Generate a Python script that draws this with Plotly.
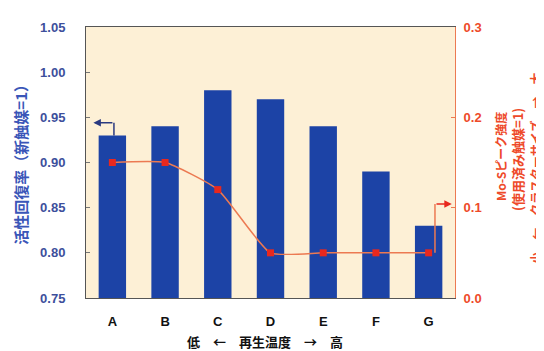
import plotly.graph_objects as go

categories = ["A", "B", "C", "D", "E", "F", "G"]
recovery = [0.93, 0.94, 0.98, 0.97, 0.94, 0.89, 0.83]
mos_peak = [0.15, 0.15, 0.12, 0.05, 0.05, 0.05, 0.05]
left_ticks = [0.75, 0.80, 0.85, 0.90, 0.95, 1.00, 1.05]
right_ticks = [0.0, 0.1, 0.2, 0.3]

BLUE = "#1c43a6"
RED = "#e8281e"
ORANGE = "#ec7a52"
LBLUE = "#3d4f9c"
TXTRED = "#ee4a2a"
JP = "Noto Sans CJK JP"
EN = "Liberation Sans"

fig = go.Figure()
fig.add_trace(go.Bar(x=list(range(7)), y=recovery, marker_color=BLUE,
                     marker_line_width=0, width=0.52, yaxis="y"))
fig.add_trace(go.Scatter(x=list(range(7)), y=mos_peak, yaxis="y2", mode="lines+markers",
                         line=dict(color=ORANGE, width=1.5, shape="spline", smoothing=0.5),
                         marker=dict(symbol="square", size=7, color=RED)))

# pointer from bar A to left axis
fig.add_trace(go.Scatter(x=[0.03, 0.03], y=[recovery[0], 0.944], mode="lines",
                         line=dict(color="#2a3a80", width=1.5), yaxis="y"))
fig.add_annotation(x=-0.36, y=0.944, ax=0.03, ay=0.944, xref="x", yref="y",
                   axref="x", ayref="y", showarrow=True, arrowhead=2, arrowsize=1,
                   arrowwidth=1.5, arrowcolor="#2a3a80", text="")
# pointer from G to right axis
fig.add_trace(go.Scatter(x=[6.12, 6.12], y=[mos_peak[6], 0.104], mode="lines",
                         line=dict(color=ORANGE, width=1.5), yaxis="y2"))
fig.add_annotation(x=6.44, y=0.104, ax=6.12, ay=0.104, xref="x", yref="y2",
                   axref="x", ayref="y2", showarrow=True, arrowhead=2, arrowsize=1,
                   arrowwidth=1.5, arrowcolor=RED, text="")

fig.update_layout(
    width=536, height=343,
    margin=dict(l=78, r=89, t=14, b=53),
    paper_bgcolor="white", plot_bgcolor="#fdf0d6",
    showlegend=False,
    xaxis=dict(range=[-0.5, 6.5], tickvals=list(range(7)), ticktext=categories,
               showgrid=False, zeroline=False, showline=True, linecolor="#555",
               mirror=True, linewidth=1, ticks="", ticklabelstandoff=11,
               tickfont=dict(family=EN, size=13, color="#111", weight="bold")),
    yaxis=dict(range=[0.75, 1.05], tickvals=left_ticks,
               ticktext=[f"{v:.2f}" for v in left_ticks],
               showgrid=False, zeroline=False, showline=True, linecolor="#555",
               linewidth=1, ticks="inside", ticklen=4, tickcolor="#777",
               ticklabelstandoff=17,
               tickfont=dict(family=EN, size=13, color=LBLUE, weight="bold")),
    yaxis2=dict(range=[0, 0.3], tickvals=right_ticks,
                ticktext=[f"{v:.1f}" for v in right_ticks],
                overlaying="y", side="right", showgrid=False, zeroline=False,
                showline=True, linecolor=ORANGE, linewidth=1, ticks="inside",
                ticklen=4, tickcolor=ORANGE, ticklabelstandoff=5,
                tickfont=dict(family=EN, size=13, color=TXTRED, weight="bold")),
)

common = dict(xref="paper", yref="paper", textangle=-90, showarrow=False,
              xanchor="center", yanchor="middle")
fig.add_annotation(x=-0.176, y=0.507, text="活性回復率（新触媒=1）",
                   font=dict(family=JP, size=15, color="#3a56b8", weight="bold"), **common)
fig.add_annotation(x=1.122, y=0.52, text="Mo-Sピーク強度",
                   font=dict(family=JP, size=12, color=TXTRED, weight="bold"), **common)
fig.add_annotation(x=1.171, y=0.51, text="(使用済み触媒=1)",
                   font=dict(family=JP, size=13, color=TXTRED, weight="bold"), **common)
fig.add_annotation(x=1.219, y=0.48, text="小　←　クラスターサイズ　→　大",
                   font=dict(family=JP, size=12, color=TXTRED, weight="bold"), **common)
fig.add_annotation(xref="paper", yref="paper", x=0.486, y=-0.16, yanchor="middle",
                   xanchor="center", text="低　←　再生温度　→　高", showarrow=False,
                   font=dict(family=JP, size=13, color="#111", weight="bold"))

fig.write_html("out.html")
